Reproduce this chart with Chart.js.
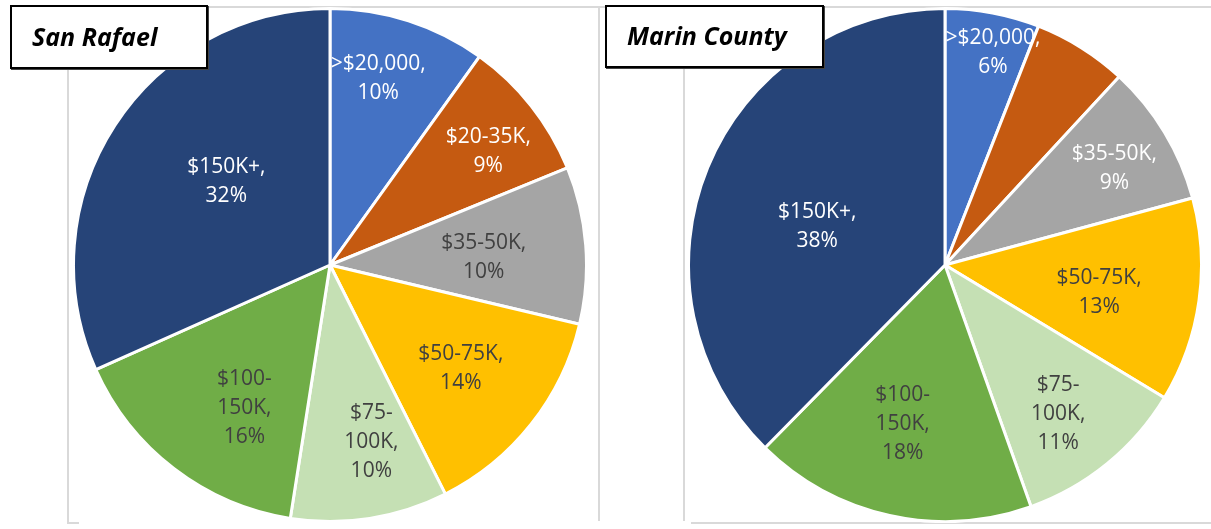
<!DOCTYPE html>
<html lang="en">
<head>
  <meta charset="UTF-8">
  <title>Household Income: San Rafael vs Marin County</title>
  <script src="https://cdn.jsdelivr.net/npm/chart.js"></script>
  <style>
    body { margin: 0; background: #fff; width: 1211px; height: 529px; position: relative; overflow: hidden; font-family: "Open Sans", sans-serif; }
    .frame { position: absolute; background: #d9d9d9; }
    .pie { position: absolute; }
    .title {
      position: absolute; background: #fff; border: 2px solid #000;
      box-shadow: 1px 1px 0 #444; box-sizing: border-box;
      font-weight: 700; font-style: italic; font-size: 25px; color: #000;
      padding-left: 20px; display: flex; align-items: center; padding-bottom: 3px;
    }
  </style>
</head>
<body>

<!-- faint chart-area borders left over from the source layout -->
<div class="frame" style="left:67px;top:68px;width:2px;height:456px"></div>
<div class="frame" style="left:67px;top:522px;width:12px;height:2px"></div>
<div class="frame" style="left:207px;top:6px;width:1004px;height:2px"></div>
<div class="frame" style="left:598px;top:6px;width:2px;height:515px"></div>
<div class="frame" style="left:683px;top:6px;width:2px;height:515px"></div>
<div class="frame" style="left:691px;top:522px;width:520px;height:2px"></div>

<canvas id="sanRafael" class="pie" width="516" height="516" style="left:72px;top:7px"></canvas>
<canvas id="marin" class="pie" width="516" height="516" style="left:687px;top:7px"></canvas>

<div class="title" style="left:10px;top:5px;width:198px;height:64px">San Rafael</div>
<div class="title" style="left:605px;top:5px;width:219px;height:63px">Marin County</div>

<script>
  const categories = ['>$20,000', '$20-35K', '$35-50K', '$50-75K', '$75-100K', '$100-150K', '$150K+'];
  const colors = ['#4472C4', '#C55A11', '#A5A5A5', '#FFC000', '#C5E0B4', '#70AD47', '#264478'];

  // percent of households per income band
  const sanRafaelValues = [10, 9, 10, 14, 10, 16, 32];
  const marinValues = [6, 6, 9, 13, 11, 18, 38];

  // label styling (Excel "best fit" placement, approximated radially)
  const sanRafaelLabelColors = ['#fff', '#fff', '#404040', '#404040', '#404040', '#404040', '#fff'];
  const marinLabelColors = ['#fff', '#fff', '#fff', '#404040', '#404040', '#404040', '#fff'];
  const sanRafaelLabelRadius = [0.75, 0.76, 0.60, 0.65, 0.71, 0.65, 0.52];
  const marinLabelRadius = [0.85, 0.80, 0.76, 0.61, 0.73, 0.64, 0.52];
  const sanRafaelLabelNudge = [-3.3, 2.6, 1.5, 0, -4.2, -6.5, 6];   // degrees off the slice middle
  const marinLabelNudge = [2, 0, 1.5, 2, 2, 2.5, -5.6];
  const marinHiddenLabels = [1];

  function labelLines(name, value) {
    if (name.includes('-') && name.length > 7) {
      const i = name.indexOf('-') + 1;
      return [name.slice(0, i), name.slice(i) + ',', value + '%'];
    }
    return [name + ',', value + '%'];
  }

  const sliceLabels = {
    id: 'sliceLabels',
    afterDatasetsDraw(chart, args, opts) {
      const ctx = chart.ctx;
      const meta = chart.getDatasetMeta(0);
      const values = chart.data.datasets[0].data;
      ctx.save();
      ctx.font = '21px "Open Sans"';
      ctx.textAlign = 'center';
      ctx.textBaseline = 'middle';
      meta.data.forEach((arc, i) => {
        if (opts.hidden.includes(i)) return;
        const p = arc.getProps(['x', 'y', 'startAngle', 'endAngle', 'outerRadius'], true);
        const mid = (p.startAngle + p.endAngle) / 2 + opts.nudge[i] * Math.PI / 180;
        const r = p.outerRadius * opts.radius[i];
        const cx = p.x + Math.cos(mid) * r;
        const cy = p.y + Math.sin(mid) * r;
        const lines = labelLines(chart.data.labels[i], values[i]);
        const lh = 29;
        ctx.fillStyle = opts.colors[i];
        lines.forEach((t, k) => {
          ctx.fillText(t, cx, cy + (k - (lines.length - 1) / 2) * lh);
        });
      });
      ctx.restore();
    }
  };

  function makePie(id, values, labelColors, labelRadius, labelNudge, hidden) {
    new Chart(document.getElementById(id), {
      type: 'pie',
      data: {
        labels: categories,
        datasets: [{
          data: values,
          backgroundColor: colors,
          borderColor: '#fff',
          borderWidth: 3
        }]
      },
      options: {
        responsive: false,
        animation: false,
        layout: { padding: 0 },
        plugins: {
          legend: { display: false },
          tooltip: { enabled: false },
          sliceLabels: { colors: labelColors, radius: labelRadius, nudge: labelNudge, hidden: hidden }
        }
      },
      plugins: [sliceLabels]
    });
  }

  makePie('sanRafael', sanRafaelValues, sanRafaelLabelColors, sanRafaelLabelRadius, sanRafaelLabelNudge, []);
  makePie('marin', marinValues, marinLabelColors, marinLabelRadius, marinLabelNudge, marinHiddenLabels);
</script>
</body>
</html>
